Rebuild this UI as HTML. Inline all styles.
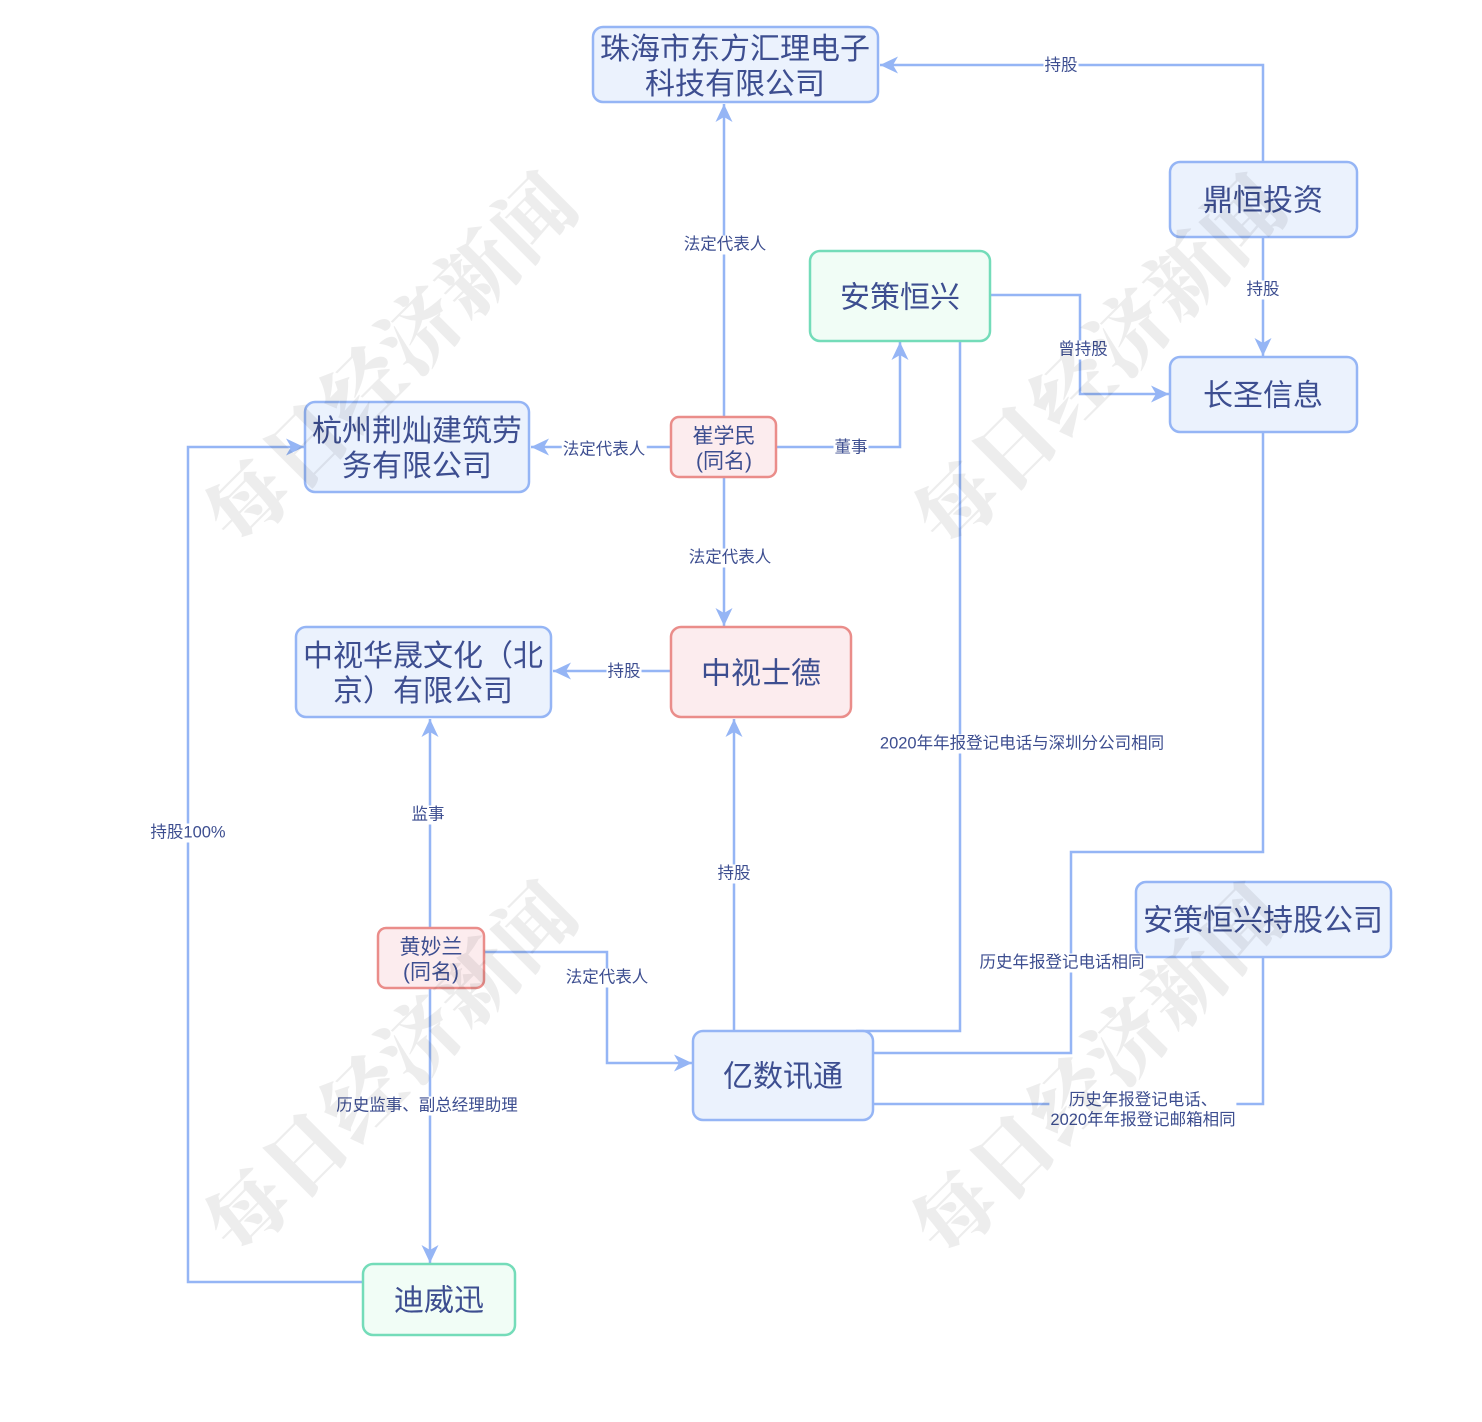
<!DOCTYPE html>
<html>
<head>
<meta charset="utf-8">
<style>
  html,body{margin:0;padding:0;background:#fff;}
  #wrap{position:relative;width:1482px;height:1422px;overflow:hidden;background:#fff;
    font-family:"Liberation Sans","Noto Sans CJK SC",sans-serif;}
  svg{position:absolute;left:0;top:0;}
  .t{position:absolute;transform:translate(-50%,-50%);white-space:nowrap;text-align:center;color:#3d4e90;}
  .big{font-size:30px;line-height:35px;}
  .sm{font-size:21px;line-height:25px;}
  .lb{font-size:16.5px;line-height:19px;background:#fff;padding:0 1px;}
  .wm{position:absolute;transform:translate(-50%,-50%) rotate(-45deg);white-space:nowrap;
    font-family:"Noto Serif CJK SC","Noto Sans CJK SC",serif;font-weight:900;font-size:79px;
    letter-spacing:2px;color:rgba(0,0,0,0.07);pointer-events:none;}
</style>
</head>
<body>
<div id="wrap">
<svg width="1482" height="1422" viewBox="0 0 1482 1422" xmlns="http://www.w3.org/2000/svg">
  <defs>
    <marker id="ar" markerUnits="userSpaceOnUse" markerWidth="20" markerHeight="20" viewBox="0 0 20 20" refX="19" refY="10" orient="auto">
      <path d="M1,1.5 L19,10 L1,18.5 L6,10 z" fill="#95b5f5"/>
    </marker>
  </defs>
  <g fill="none" stroke="#95b5f5" stroke-width="2.5" stroke-linejoin="miter">
    <polyline points="724,417 724,104" marker-end="url(#ar)"/>
    <polyline points="1263,162 1263,65 880,65" marker-end="url(#ar)"/>
    <polyline points="1263,237 1263,356" marker-end="url(#ar)"/>
    <polyline points="990,295 1080,295 1080,394 1169,394" marker-end="url(#ar)"/>
    <polyline points="671,447 531,447" marker-end="url(#ar)"/>
    <polyline points="776,447 900,447 900,342" marker-end="url(#ar)"/>
    <polyline points="724,477 724,626" marker-end="url(#ar)"/>
    <polyline points="671,671 553,671" marker-end="url(#ar)"/>
    <polyline points="430,928 430,719" marker-end="url(#ar)"/>
    <polyline points="484,952 607,952 607,1063 692,1063" marker-end="url(#ar)"/>
    <polyline points="430,988 430,1263" marker-end="url(#ar)"/>
    <polyline points="363,1282 188,1282 188,447 304,447" marker-end="url(#ar)"/>
    <polyline points="734,1031 734,719" marker-end="url(#ar)"/>
    <polyline points="960,341 960,1031 856,1031"/>
    <polyline points="1263,432 1263,852 1071,852 1071,1053 873,1053"/>
    <polyline points="1263,957 1263,1104 873,1104"/>
  </g>
  <g stroke-width="2.5">
    <rect x="593" y="27" width="285" height="75" rx="10" fill="#ebf2fd" stroke="#95b5f5"/>
    <rect x="1170" y="162" width="187" height="75" rx="10" fill="#ebf2fd" stroke="#95b5f5"/>
    <rect x="1170" y="357" width="187" height="75" rx="10" fill="#ebf2fd" stroke="#95b5f5"/>
    <rect x="305" y="402" width="224" height="90" rx="10" fill="#ebf2fd" stroke="#95b5f5"/>
    <rect x="296" y="627" width="255" height="90" rx="10" fill="#ebf2fd" stroke="#95b5f5"/>
    <rect x="1136" y="882" width="255" height="75" rx="10" fill="#ebf2fd" stroke="#95b5f5"/>
    <rect x="693" y="1031" width="180" height="89" rx="10" fill="#ebf2fd" stroke="#95b5f5"/>
    <rect x="810" y="251" width="180" height="90" rx="10" fill="#f1fdf6" stroke="#74dcb9"/>
    <rect x="363" y="1264" width="152" height="71" rx="10" fill="#f1fdf6" stroke="#74dcb9"/>
    <rect x="671" y="417" width="105" height="60" rx="8" fill="#fcecee" stroke="#ea8d8a"/>
    <rect x="671" y="627" width="180" height="90" rx="10" fill="#fcecee" stroke="#ea8d8a"/>
    <rect x="378" y="928" width="106" height="60" rx="8" fill="#fcecee" stroke="#ea8d8a"/>
  </g>
</svg>

<div class="t big" style="left:735px;top:66.5px;">珠海市东方汇理电子<br>科技有限公司</div>
<div class="t big" style="left:1263px;top:201px;">鼎恒投资</div>
<div class="t big" style="left:900px;top:297.5px;">安策恒兴</div>
<div class="t big" style="left:1263px;top:396px;">长圣信息</div>
<div class="t big" style="left:417px;top:448.5px;">杭州荆灿建筑劳<br>务有限公司</div>
<div class="t sm" style="left:724px;top:449px;">崔学民<br>(同名)</div>
<div class="t big" style="left:423px;top:673.5px;">中视华晟文化（北<br>京）有限公司</div>
<div class="t big" style="left:761px;top:673.5px;">中视士德</div>
<div class="t big" style="left:1263px;top:921px;">安策恒兴持股公司</div>
<div class="t sm" style="left:431px;top:960px;">黄妙兰<br>(同名)</div>
<div class="t big" style="left:783px;top:1076.5px;">亿数讯通</div>
<div class="t big" style="left:439px;top:1300.5px;">迪威迅</div>

<div class="t lb" style="left:725px;top:245px;">法定代表人</div>
<div class="t lb" style="left:1061px;top:66px;">持股</div>
<div class="t lb" style="left:1263px;top:290px;">持股</div>
<div class="t lb" style="left:1083px;top:350px;">曾持股</div>
<div class="t lb" style="left:604px;top:450px;">法定代表人</div>
<div class="t lb" style="left:851px;top:448px;">董事</div>
<div class="t lb" style="left:730px;top:558px;">法定代表人</div>
<div class="t lb" style="left:624px;top:672px;">持股</div>
<div class="t lb" style="left:428px;top:815px;">监事</div>
<div class="t lb" style="left:607px;top:978px;">法定代表人</div>
<div class="t lb" style="left:427px;top:1106px;">历史监事、副总经理助理</div>
<div class="t lb" style="left:188px;top:833px;">持股100%</div>
<div class="t lb" style="left:734px;top:874px;">持股</div>
<div class="t lb" style="left:1022px;top:744px;">2020年年报登记电话与深圳分公司相同</div>
<div class="t lb" style="left:1062px;top:963px;">历史年报登记电话相同</div>
<div class="t lb" style="left:1143px;top:1110px;line-height:20px;">历史年报登记电话、<br>2020年年报登记邮箱相同</div>

<div class="wm" style="left:388px;top:355px;">每日经济新闻</div>
<div class="wm" style="left:1097px;top:357px;">每日经济新闻</div>
<div class="wm" style="left:388px;top:1064px;">每日经济新闻</div>
<div class="wm" style="left:1095px;top:1066px;">每日经济新闻</div>
</div>
</body>
</html>
